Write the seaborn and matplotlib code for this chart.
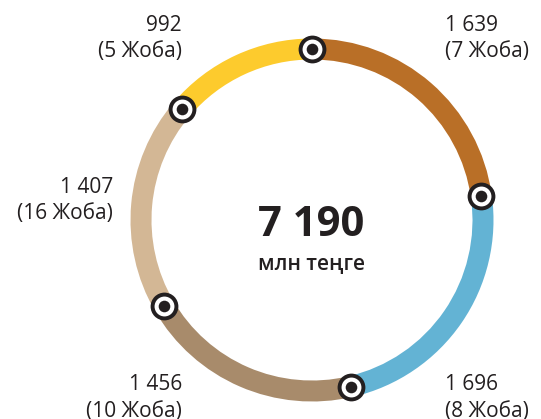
import numpy as np
import pandas as pd
import matplotlib
matplotlib.use("Agg")
import matplotlib.pyplot as plt
import seaborn as sns

# Data (clockwise from top)
values = [1639, 1696, 1456, 1407, 992]
projects = [7, 8, 10, 16, 5]
colors = ["#B96F27", "#63B3D4", "#A88B6B", "#D3B795", "#FDCB2D"]
total_label = "7 190"
unit_label = "млн теңге"

sns.set_theme(style="white")
plt.rcParams["font.family"] = ["Open Sans", "DejaVu Sans"]

W, H = 541, 419
fig = plt.figure(figsize=(W / 100, H / 100), dpi=100)
ax = fig.add_axes([0, 0, 1, 1])
ax.set_xlim(0, W)
ax.set_ylim(0, H)
ax.set_aspect("equal")
ax.axis("off")

cx, cy = 312, H - 220
r_mid = 171
ring_w = 21

ax.pie(values, colors=colors, startangle=90, counterclock=False,
       radius=r_mid + ring_w / 2, center=(cx, cy),
       wedgeprops=dict(width=ring_w, linewidth=0), frame=True)
ax.set_xlim(0, W)
ax.set_ylim(0, H)
ax.set_aspect("equal")
ax.axis("off")

# boundary markers
cum = np.concatenate([[0], np.cumsum(values)[:-1]])
ang = np.deg2rad(90 - cum / sum(values) * 360)
mk = pd.DataFrame({"x": cx + r_mid * np.cos(ang), "y": cy + r_mid * np.sin(ang)})
dark = "#231F20"
sns.scatterplot(data=mk, x="x", y="y", ax=ax, s=400, color=dark, linewidth=0, zorder=5, legend=False)
sns.scatterplot(data=mk, x="x", y="y", ax=ax, s=205, color="white", linewidth=0, zorder=6, legend=False)
sns.scatterplot(data=mk, x="x", y="y", ax=ax, s=70, color=dark, linewidth=0, zorder=7, legend=False)
ax.set_xlabel("")
ax.set_ylabel("")

# centre text
ax.text(cx - 1, H - 226, total_label, ha="center", va="center", fontsize=30,
        fontweight="bold", color=dark)
ax.text(cx - 1, H - 265, unit_label, ha="center", va="center", fontsize=15,
        fontweight="semibold", color=dark)

# labels: (x, ha, y of first line)
label_pos = [(445, "left", 26), (445, "left", 385), (182, "right", 385),
             (113, "right", 188), (182, "right", 26)]
for v, p, (lx, ha, ly) in zip(values, projects, label_pos):
    ax.text(lx, H - ly, f"{v:,}".replace(",", " "), ha=ha, va="center",
            fontsize=15, color=dark)
    ax.text(lx, H - ly - 26, f"({p} Жоба)", ha=ha, va="center",
            fontsize=15, color=dark)

fig.savefig("out.png", dpi=100)
